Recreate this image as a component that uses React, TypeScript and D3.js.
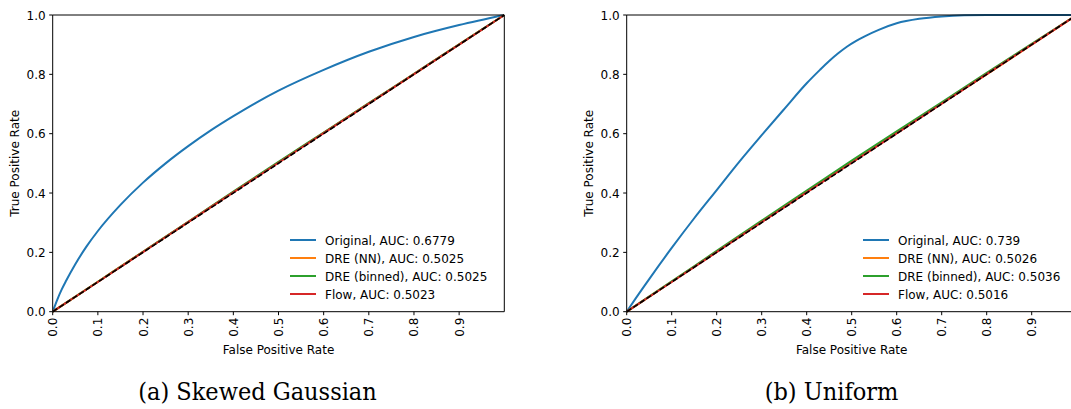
import React from "react";
import * as d3 from "d3";

// ROC curves for two datasets: original classifier vs. reweighted models.
const xTicks = [0, 0.1, 0.2, 0.3, 0.4, 0.5, 0.6, 0.7, 0.8, 0.9];
const yTicks = [0, 0.2, 0.4, 0.6, 0.8, 1.0];

const diagFpr = [0, 0.1, 0.2, 0.3, 0.4, 0.5, 0.6, 0.7, 0.8, 0.9, 1];
const chanceTpr = [0, 1];
const chanceFpr = [0, 1];

// (a) Skewed Gaussian
const gaussOrigFpr = [0, 0.01, 0.02, 0.03, 0.05, 0.075, 0.1, 0.15, 0.2, 0.25, 0.3, 0.35, 0.4, 0.45, 0.5, 0.6, 0.7, 0.8, 0.9, 1];
const gaussOrigTpr = [0, 0.04, 0.075, 0.105, 0.16, 0.22, 0.272, 0.36, 0.435, 0.5, 0.558, 0.611, 0.659, 0.704, 0.745, 0.815, 0.876, 0.926, 0.966, 1];
const gaussNnTpr = [0, 0.101, 0.202, 0.302, 0.403, 0.503, 0.603, 0.702, 0.801, 0.901, 1];
const gaussBinnedTpr = [0, 0.101, 0.202, 0.303, 0.405, 0.505, 0.604, 0.703, 0.802, 0.901, 1];
const gaussFlowTpr = [0, 0.1, 0.201, 0.302, 0.402, 0.502, 0.602, 0.701, 0.801, 0.9, 1];

// (b) Uniform
const unifOrigFpr = [0, 0.02, 0.05, 0.1, 0.15, 0.2, 0.25, 0.3, 0.35, 0.4, 0.43, 0.45, 0.47, 0.49, 0.51, 0.53, 0.56, 0.6, 0.65, 0.7, 0.75, 0.8, 0.9, 1];
const unifOrigTpr = [0, 0.045, 0.11, 0.215, 0.315, 0.41, 0.505, 0.595, 0.683, 0.77, 0.816, 0.845, 0.871, 0.894, 0.913, 0.929, 0.95, 0.972, 0.987, 0.995, 0.999, 1, 1, 1];
const unifNnTpr = [0, 0.101, 0.202, 0.303, 0.403, 0.503, 0.603, 0.702, 0.8, 0.9, 1];
const unifBinnedTpr = [0, 0.102, 0.205, 0.307, 0.408, 0.509, 0.608, 0.706, 0.805, 0.903, 1];
const unifFlowTpr = [0, 0.1, 0.201, 0.302, 0.402, 0.502, 0.601, 0.701, 0.801, 0.9, 1];

const seriesNames = ["Original", "DRE (NN)", "DRE (binned)", "Flow"];
const seriesColors = ["#1f77b4", "#ff7f0e", "#2ca02c", "#d62728"];
const gaussAuc = ["0.6779", "0.5025", "0.5025", "0.5023"];
const unifAuc = ["0.739", "0.5026", "0.5036", "0.5016"];

const FONT = "DejaVu Sans, sans-serif";
const FS = 12;

type Series = { x: number[]; y: number[]; color: string };

function RocPanel(props: {
  x0: number;
  x1: number;
  y0: number;
  y1: number;
  series: Series[];
  labels: string[];
  legendX: number;
  clipId: string;
}) {
  const { x0, x1, y0, y1, series, labels, legendX, clipId } = props;
  const xs = d3.scaleLinear().domain([0, 1]).range([x0, x1]);
  const ys = d3.scaleLinear().domain([0, 1]).range([y0, y1]);
  const line = (xv: number[], yv: number[]) =>
    d3
      .line<number>()
      .x((_, i) => xs(xv[i]))
      .y((d) => ys(d))
      .curve(d3.curveMonotoneX)(yv) || "";

  return (
    <g>
      <defs>
        <clipPath id={clipId}>
          <rect x={x0} y={y1 - 2} width={x1 - x0} height={y0 - y1 + 4} />
        </clipPath>
      </defs>
      <g clipPath={`url(#${clipId})`}>
        {series.map((s, i) => (
          <path key={i} d={line(s.x, s.y)} fill="none" stroke={s.color} strokeWidth={2} />
        ))}
        <path
          d={line(chanceFpr, chanceTpr)}
          fill="none"
          stroke="#000"
          strokeWidth={1.6}
          strokeDasharray="5.5,2.4"
        />
      </g>
      {/* spines */}
      <line x1={x0} x2={x1} y1={y0} y2={y0} stroke="#000" strokeWidth={1} />
      <line x1={x0} x2={x1} y1={y1} y2={y1} stroke="#000" strokeWidth={1} />
      <line x1={x0} x2={x0} y1={y0} y2={y1} stroke="#000" strokeWidth={1} />
      <line x1={x1} x2={x1} y1={y0} y2={y1} stroke="#000" strokeWidth={1} />
      {/* x ticks */}
      {xTicks.map((t) => (
        <g key={`x${t}`}>
          <line x1={xs(t)} x2={xs(t)} y1={y0} y2={y0 + 3.5} stroke="#000" strokeWidth={1} />
          <text
            transform={`translate(${xs(t) + 4.5},${y0 + 6}) rotate(-90)`}
            textAnchor="end"
            fontFamily={FONT}
            fontSize={FS}
          >
            {t.toFixed(1)}
          </text>
        </g>
      ))}
      {/* y ticks */}
      {yTicks.map((t) => (
        <g key={`y${t}`}>
          <line x1={x0 - 3.5} x2={x0} y1={ys(t)} y2={ys(t)} stroke="#000" strokeWidth={1} />
          <text x={x0 - 7} y={ys(t) + 4.5} textAnchor="end" fontFamily={FONT} fontSize={FS}>
            {t.toFixed(1)}
          </text>
        </g>
      ))}
      <text x={(x0 + x1) / 2} y={y0 + 42} textAnchor="middle" fontFamily={FONT} fontSize={FS}>
        False Positive Rate
      </text>
      <text
        transform={`translate(${x0 - 33.5},${(y0 + y1) / 2}) rotate(-90)`}
        textAnchor="middle"
        fontFamily={FONT}
        fontSize={FS}
      >
        True Positive Rate
      </text>
      {/* legend */}
      {labels.map((lab, i) => (
        <g key={lab} transform={`translate(${legendX},${240 + i * 18})`}>
          <line x1={0} x2={26} y1={0} y2={0} stroke={seriesColors[i]} strokeWidth={2} />
          <text x={35} y={4.5} fontFamily={FONT} fontSize={FS}>
            {lab}
          </text>
        </g>
      ))}
    </g>
  );
}

export default function App() {
  const gaussSeries: Series[] = [
    { x: gaussOrigFpr, y: gaussOrigTpr, color: seriesColors[0] },
    { x: diagFpr, y: gaussNnTpr, color: seriesColors[1] },
    { x: diagFpr, y: gaussBinnedTpr, color: seriesColors[2] },
    { x: diagFpr, y: gaussFlowTpr, color: seriesColors[3] },
  ];
  const unifSeries: Series[] = [
    { x: unifOrigFpr, y: unifOrigTpr, color: seriesColors[0] },
    { x: diagFpr, y: unifNnTpr, color: seriesColors[1] },
    { x: diagFpr, y: unifBinnedTpr, color: seriesColors[2] },
    { x: diagFpr, y: unifFlowTpr, color: seriesColors[3] },
  ];
  const gaussLabels = seriesNames.map((n, i) => `${n}, AUC: ${gaussAuc[i]}`);
  const unifLabels = seriesNames.map((n, i) => `${n}, AUC: ${unifAuc[i]}`);

  return (
    <svg
      width={1071}
      height={409}
      style={{ position: "absolute", left: 0, top: 0, background: "#fff" }}
    >
      <rect width={1071} height={409} fill="#fff" />
      <RocPanel
        x0={52.7}
        x1={504.3}
        y0={311.7}
        y1={15}
        series={gaussSeries}
        labels={gaussLabels}
        legendX={290}
        clipId="clipA"
      />
      <RocPanel
        x0={626.7}
        x1={1076.7}
        y0={311.7}
        y1={15}
        series={unifSeries}
        labels={unifLabels}
        legendX={863}
        clipId="clipB"
      />
      <text
        x={257.5}
        y={400}
        textAnchor="middle"
        fontFamily="DejaVu Serif Condensed, DejaVu Serif, serif"
        fontSize={25}
      >
        (a) Skewed Gaussian
      </text>
      <text
        x={831.5}
        y={400}
        textAnchor="middle"
        fontFamily="DejaVu Serif Condensed, DejaVu Serif, serif"
        fontSize={25}
      >
        (b) Uniform
      </text>
    </svg>
  );
}
